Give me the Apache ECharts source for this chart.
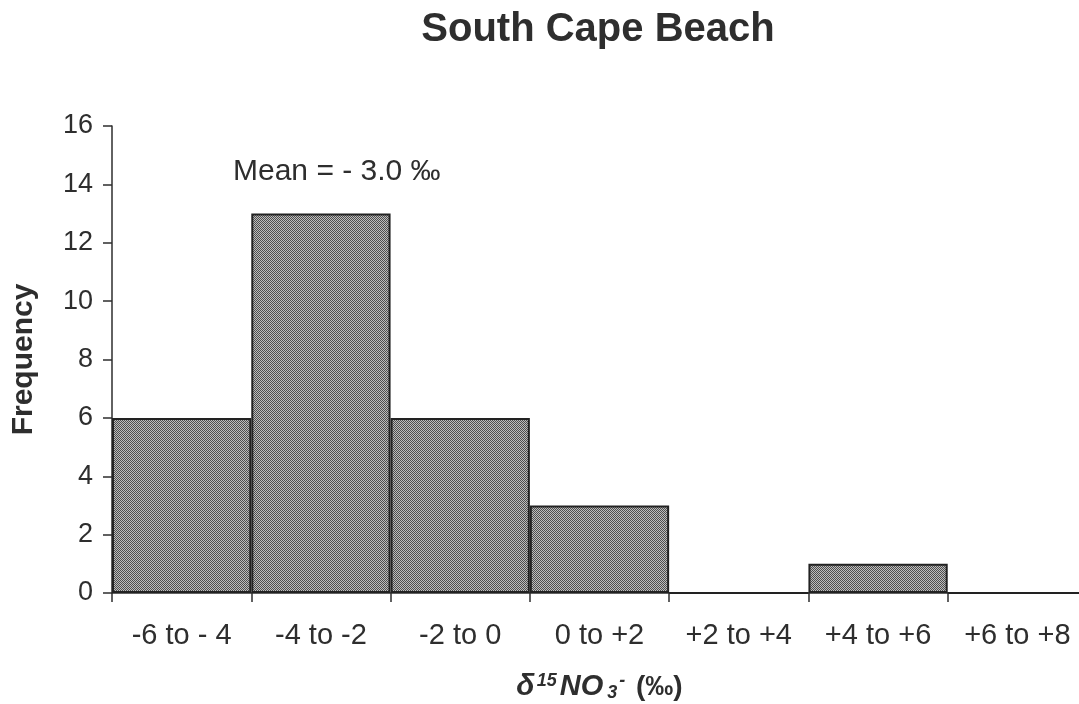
<!DOCTYPE html>
<html>
<head>
<meta charset="utf-8">
<script src="https://cdn.jsdelivr.net/npm/echarts@6/dist/echarts.min.js"></script>
<style>
  html, body { margin: 0; padding: 0; background: #fff; }
  #chart { width: 1079px; height: 704px; }
</style>
</head>
<body>
<div id="chart"></div>
<script>
// Histogram bins of δ15N-nitrate (‰) and their counts
const categories = ['-6 to - 4', '-4 to -2', '-2 to 0', '0 to +2', '+2 to +4', '+4 to +6', '+6 to +8'];
const frequency = [6, 13, 6, 3, 0, 1, 0];
const yTicks = { min: 0, max: 16, interval: 2 };
const titleText = 'South Cape Beach';
const meanText = 'Mean = - 3.0 \u2030';

// Fine halftone stipple used as bar fill
function stipple() {
  const c = document.createElement('canvas');
  c.width = 4; c.height = 4;
  const ctx = c.getContext('2d');
  for (let y = 0; y < 4; y++) {
    for (let x = 0; x < 4; x++) {
      ctx.fillStyle = ((x + y) % 2 === 0) ? '#4e4e4e' : '#bdbdbd';
      ctx.fillRect(x, y, 1, 1);
    }
  }
  return c;
}

const font = '"Liberation Sans", Arial, sans-serif';
const ink = '#2e2e2e';
const chart = echarts.init(document.getElementById('chart'), null, { renderer: 'canvas' });

chart.setOption({
  backgroundColor: '#ffffff',
  animation: false,
  textStyle: { fontFamily: font },
  title: {
    text: titleText,
    left: 593,
    top: 5,
    textAlign: 'center',
    textStyle: { fontFamily: font, fontSize: 40, fontWeight: 'bold', color: ink }
  },
  // the last bin runs slightly past the right edge of the page
  grid: { left: 112, top: 126, right: -8, bottom: 111, containLabel: false, outerBoundsMode: 'none' },
  xAxis: {
    type: 'category',
    data: categories,
    boundaryGap: true,
    axisLine: { show: true, lineStyle: { color: ink, width: 1.5 } },
    axisTick: { show: true, length: 9, lineStyle: { color: ink, width: 1.5 } },
    axisLabel: { margin: 28, fontSize: 29, color: ink, fontFamily: font, interval: 0 },
    splitLine: { show: false },
    name: '{d|δ}{sup|15}{b|NO}{sub|3}{sup|-}{p| (‰)}',
    nameLocation: 'middle',
    nameGap: 79,
    nameTextStyle: {
      color: ink,
      fontFamily: font,
      rich: {
        d: { fontSize: 30, fontWeight: 'bold', fontStyle: 'italic', color: ink, fontFamily: font },
        b: { fontSize: 29, fontWeight: 'bold', fontStyle: 'italic', color: ink, fontFamily: font },
        p: { fontSize: 28, fontWeight: 'bold', color: ink, fontFamily: font },
        sup: { fontSize: 18, fontWeight: 'bold', fontStyle: 'italic', color: ink, fontFamily: font, verticalAlign: 'top', padding: [0, 3, 12, 2] },
        sub: { fontSize: 18, fontWeight: 'bold', fontStyle: 'italic', color: ink, fontFamily: font, verticalAlign: 'bottom', padding: [12, 0, 0, 4] }
      }
    }
  },
  yAxis: {
    type: 'value',
    min: yTicks.min,
    max: yTicks.max,
    interval: yTicks.interval,
    axisLine: { show: true, lineStyle: { color: ink, width: 1.5 } },
    axisTick: { show: true, length: 9, lineStyle: { color: ink, width: 1.5 } },
    axisLabel: { margin: 19, fontSize: 27, color: ink, fontFamily: font },
    splitLine: { show: false },
    name: 'Frequency',
    nameLocation: 'middle',
    nameGap: 73,
    nameTextStyle: { fontSize: 30, fontWeight: 'bold', color: ink, fontFamily: font }
  },
  graphic: [{
    type: 'text',
    left: 233,
    top: 157,
    style: { text: meanText, fontSize: 30, fill: ink, fontFamily: font }
  }],
  series: [{
    type: 'bar',
    data: frequency,
    barCategoryGap: '0%',
    itemStyle: {
      color: { image: stipple(), repeat: 'repeat' },
      borderColor: '#222',
      borderWidth: 2
    },
    silent: true
  }]
});
</script>
</body>
</html>
